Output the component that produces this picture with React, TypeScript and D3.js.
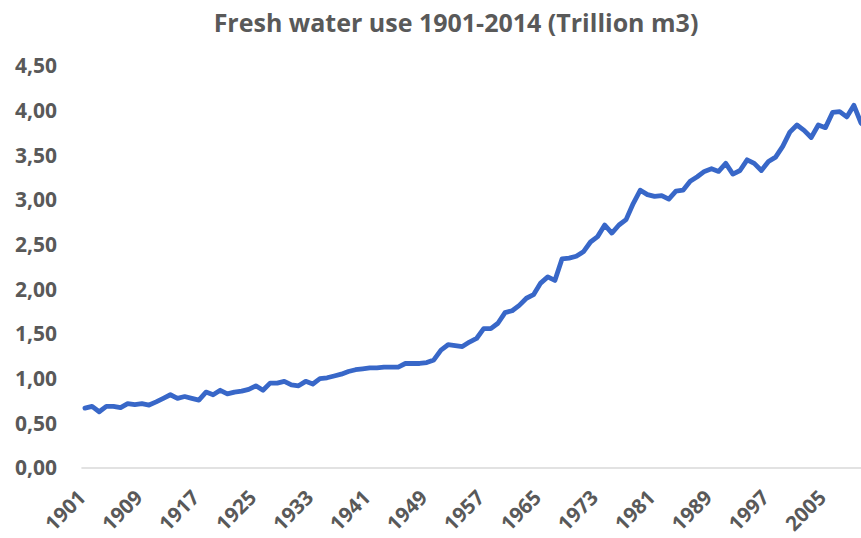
import React, { useRef, useEffect } from "react";
import * as d3 from "d3";

const title = "Fresh water use 1901-2014 (Trillion m3)";

const years: number[] = d3.range(1901, 2015);

// trillion m3
const waterUse: number[] = [
  0.67, 0.69, 0.63, 0.69, 0.69, 0.675, 0.72, 0.71, 0.72, 0.705,
  0.74, 0.78, 0.82, 0.78, 0.8, 0.78, 0.76, 0.85, 0.82, 0.87,
  0.83, 0.85, 0.86, 0.88, 0.92, 0.87, 0.95, 0.95, 0.97, 0.93,
  0.92, 0.97, 0.94, 1.0, 1.01, 1.03, 1.05, 1.08, 1.1, 1.11,
  1.12, 1.12, 1.13, 1.13, 1.13, 1.17, 1.17, 1.17, 1.18, 1.21,
  1.32, 1.38, 1.37, 1.36, 1.41, 1.45, 1.56, 1.56, 1.62, 1.74,
  1.76, 1.82, 1.9, 1.94, 2.07, 2.14, 2.1, 2.34, 2.35, 2.37,
  2.42, 2.53, 2.59, 2.72, 2.63, 2.72, 2.78, 2.96, 3.11, 3.06,
  3.04, 3.05, 3.01, 3.1, 3.11, 3.21, 3.26, 3.32, 3.35, 3.32,
  3.41, 3.29, 3.33, 3.45, 3.41, 3.33, 3.43, 3.48, 3.6, 3.76,
  3.84, 3.78, 3.7, 3.84, 3.81, 3.98, 3.99, 3.93, 4.06, 3.86,
  3.8, 3.9, 3.95, 3.98,
];

const yTicks: number[] = [0, 0.5, 1, 1.5, 2, 2.5, 3, 3.5, 4, 4.5];
// only the labels that fit inside the cropped picture
const xTickYears: number[] = d3.range(1901, 2010, 8);

const FONT = "'Open Sans', sans-serif";
const TEXT = "#595959";

const App: React.FC = () => {
  const ref = useRef<SVGSVGElement | null>(null);

  useEffect(() => {
    const svg = d3.select(ref.current);
    svg.selectAll("*").remove();

    const width = 861;
    const height = 538;
    svg.attr("width", width).attr("height", height);

    svg.append("rect").attr("width", width).attr("height", height).attr("fill", "#fff");

    // plot area runs past the right edge (reference is cropped there)
    const x = d3
      .scaleBand<number>()
      .domain(years)
      .range([81.4, 81.4 + 114 * 7.12]);
    const cx = (yr: number) => (x(yr) || 0) + x.bandwidth() / 2;

    const y = d3.scaleLinear().domain([0, 4.5]).range([468, 66]);

    // title
    svg
      .append("text")
      .attr("x", 456)
      .attr("y", 32)
      .attr("text-anchor", "middle")
      .attr("font-family", FONT)
      .attr("font-weight", "bold")
      .attr("font-size", 25)
      .attr("fill", TEXT)
      .text(title);

    // y axis labels, no gridlines
    const yAxis = svg
      .append("g")
      .attr("transform", "translate(57,0)")
      .call(
        d3
          .axisLeft(y)
          .tickValues(yTicks)
          .tickSize(0)
          .tickPadding(0)
          .tickFormat((d) => d3.format(".2f")(d as number).replace(".", ","))
      );
    yAxis.select(".domain").remove();
    yAxis
      .selectAll("text")
      .attr("font-family", FONT)
      .attr("font-weight", "bold")
      .attr("font-size", 21)
      .attr("fill", TEXT);

    // baseline
    svg
      .append("line")
      .attr("x1", x.range()[0])
      .attr("x2", x.range()[1])
      .attr("y1", y(0))
      .attr("y2", y(0))
      .attr("stroke", "#d9d9d9")
      .attr("stroke-width", 1.5);

    // x labels rotated
    svg
      .append("g")
      .selectAll("text")
      .data(xTickYears)
      .enter()
      .append("text")
      .attr("transform", (d) => `translate(${cx(d) + 2},${499}) rotate(-45)`)
      .attr("text-anchor", "end")
      .attr("font-family", FONT)
      .attr("font-weight", "bold")
      .attr("font-size", 20.5)
      .attr("fill", TEXT)
      .text((d) => String(d));

    const line = d3
      .line<number>()
      .x((_, i) => cx(years[i]))
      .y((d) => y(d));

    svg
      .append("path")
      .datum(waterUse)
      .attr("d", line)
      .attr("fill", "none")
      .attr("stroke", "#3867C8")
      .attr("stroke-width", 4.8)
      .attr("stroke-linejoin", "round")
      .attr("stroke-linecap", "round");
  }, []);

  return (
    <svg
      ref={ref}
      style={{ position: "absolute", left: 0, top: 0, display: "block" }}
    ></svg>
  );
};

export default App;
